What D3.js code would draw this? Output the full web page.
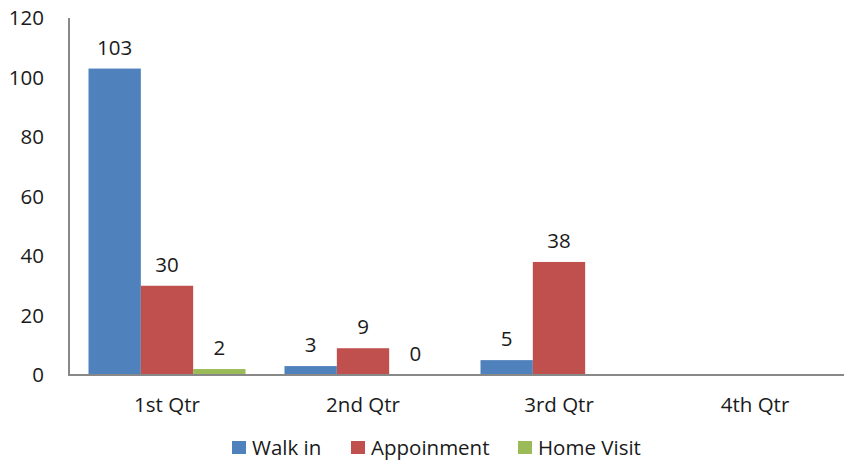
<!DOCTYPE html>
<html><head><meta charset="utf-8">
<script src="https://cdn.jsdelivr.net/npm/d3@7"></script>
<style>
html,body{margin:0;padding:0;background:#fff;}
svg{display:block;font-family:"Open Sans",sans-serif;}
</style></head>
<body><svg id="c" width="844" height="463"></svg>
<script>
const categories = ["1st Qtr", "2nd Qtr", "3rd Qtr", "4th Qtr"];
const seriesNames = ["Walk in", "Appoinment", "Home Visit"];
const walkIn = [103, 3, 5, null];
const appointment = [30, 9, 38, null];
const homeVisit = [2, 0, null, null];
const yTicks = [0, 20, 40, 60, 80, 100, 120];
const colors = ["#4F81BD", "#C0504D", "#9BBB59"];

const series = [walkIn, appointment, homeVisit];
const svg = d3.select("#c");
const fs = 20.5;
const x0 = d3.scaleBand().domain(categories).range([69, 853]).paddingInner(0).paddingOuter(0);
const x1 = d3.scaleBand().domain(seriesNames).range([19.5, 196 - 19.5]);
const y = d3.scaleLinear().domain([0, 120]).range([375, 18]);

// y tick labels
svg.append("g").selectAll("text").data(yTicks).join("text")
  .attr("x", 44).attr("y", d => y(d)).attr("dy", "0.35em")
  .attr("text-anchor", "end").attr("font-size", fs).attr("fill", "#1a1a1a")
  .text(d => d);

// bars
categories.forEach((c, ci) => {
  const g = svg.append("g");
  series.forEach((s, si) => {
    const v = s[ci];
    if (v === null) return;
    const bx = x0(c) + x1(seriesNames[si]);
    g.append("rect").attr("x", bx).attr("width", x1.bandwidth())
      .attr("y", y(v)).attr("height", y(0) - y(v))
      .attr("fill", colors[si]);
    g.append("text").attr("x", bx + x1.bandwidth() / 2).attr("y", y(v) - 21)
      .attr("dy", "0.35em").attr("text-anchor", "middle")
      .attr("font-size", fs).attr("fill", "#1a1a1a").text(v);
  });
});

// axes lines
svg.append("line").attr("x1", 69).attr("x2", 69).attr("y1", y(120)).attr("y2", y(0))
  .attr("stroke", "#888").attr("stroke-width", 2);
svg.append("line").attr("x1", 68).attr("x2", 844).attr("y1", y(0)).attr("y2", y(0))
  .attr("stroke", "#888").attr("stroke-width", 2);

// category labels
svg.append("g").selectAll("text").data(categories).join("text")
  .attr("x", d => x0(d) + x0.bandwidth() / 2).attr("y", 412)
  .attr("text-anchor", "middle").attr("font-size", fs).attr("fill", "#1a1a1a")
  .text(d => d);

// legend
const legX = [232, 351, 518];
const lg = svg.append("g");
seriesNames.forEach((n, i) => {
  lg.append("rect").attr("x", legX[i]).attr("y", 441).attr("width", 14).attr("height", 13).attr("fill", colors[i]);
  lg.append("text").attr("x", legX[i] + 20).attr("y", 448).attr("dy", "0.35em")
    .attr("font-size", fs).attr("fill", "#1a1a1a").text(n);
});
</script></body></html>
